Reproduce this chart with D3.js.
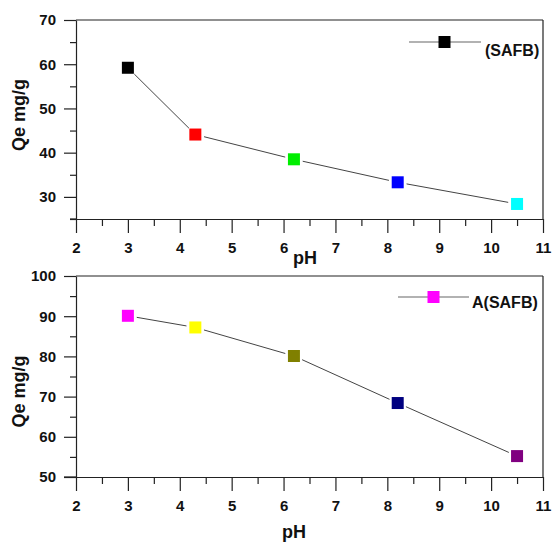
<!DOCTYPE html>
<html><head><meta charset="utf-8">
<script src="https://cdn.jsdelivr.net/npm/d3@7"></script>
<style>
body{margin:0;background:#fff;}
svg text{font-family:"Liberation Sans",Arial,sans-serif;font-weight:bold;fill:#111;}
</style></head>
<body><svg id="c" width="553" height="543"></svg>
<script>
const pH = [3, 4.3, 6.2, 8.2, 10.5];
const qeSAFB = [59.2, 44.1, 38.5, 33.3, 28.4];
const qeASAFB = [90.1, 87.2, 80.1, 68.4, 55.2];
const colorsSAFB = ["#000000", "#ff0000", "#00ee00", "#0000ff", "#00ffff"];
const colorsASAFB = ["#ff00ff", "#ffff00", "#808000", "#000080", "#800080"];
const xTicks = [2,3,4,5,6,7,8,9,10,11];
const xMinor = [2.5,3.5,4.5,5.5,6.5,7.5,8.5,9.5,10.5];
const yTicksTop = [30,40,50,60,70];
const yMinorTop = [25,35,45,55,65];
const yTicksBot = [50,60,70,80,90,100];
const yMinorBot = [55,65,75,85,95];
const legendTop = "(SAFB)";
const legendBot = "A(SAFB)";
const xLabel = "pH";
const yLabel = "Qe mg/g";

const svg = d3.select("#c");
const axisColor = "#222";

function panel(cfg){
  const g = svg.append("g");
  const x = d3.scaleLinear().domain([2,11]).range([76,543]);
  const y = d3.scaleLinear().domain(cfg.yDomain).range([cfg.bottom, cfg.top]);
  // frame top & right
  g.append("line").attr("x1",76).attr("x2",543).attr("y1",cfg.top).attr("y2",cfg.top)
    .attr("stroke",axisColor).attr("stroke-width",1.2);
  g.append("line").attr("x1",543).attr("x2",543).attr("y1",cfg.top).attr("y2",cfg.bottom)
    .attr("stroke",axisColor).attr("stroke-width",1.2);
  // x axis
  const xa = g.append("g").attr("transform",`translate(0,${cfg.bottom})`)
    .call(d3.axisBottom(x).tickValues(xTicks).tickSize(14).tickSizeOuter(0).tickPadding(9).tickFormat(d3.format("d")));
  g.append("g").attr("transform",`translate(0,${cfg.bottom})`)
    .call(d3.axisBottom(x).tickValues(xMinor).tickSize(7).tickSizeOuter(0).tickFormat(""))
    .select(".domain").remove();
  // y axis
  const ya = g.append("g").attr("transform",`translate(76,0)`)
    .call(d3.axisLeft(y).tickValues(cfg.yTicks).tickSize(12).tickSizeOuter(0).tickPadding(8).tickFormat(d3.format("d")));
  g.append("g").attr("transform",`translate(76,0)`)
    .call(d3.axisLeft(y).tickValues(cfg.yMinor).tickSize(6).tickSizeOuter(0).tickFormat(""))
    .select(".domain").remove();
  // extend x axis line left to minor/major tick start and y axis down
  const leftExt = cfg.yMinor.includes(cfg.yDomain[0]) ? 6 : 12;
  g.append("line").attr("x1",76-leftExt).attr("x2",76).attr("y1",cfg.bottom).attr("y2",cfg.bottom)
    .attr("stroke",axisColor).attr("stroke-width",1.2);
  g.selectAll(".domain, .tick line").attr("stroke",axisColor).attr("stroke-width",1.2);
  g.selectAll(".tick text").attr("font-size","15px").attr("fill","#111")
    .style("font-family",'"Liberation Sans",Arial,sans-serif').style("font-weight","bold");

  // line segments with gaps
  const pts = pH.map((v,i)=>[x(v), y(cfg.values[i])]);
  const gap = 9;
  for(let i=0;i<pts.length-1;i++){
    const [x1,y1]=pts[i],[x2,y2]=pts[i+1];
    const dx=x2-x1, dy=y2-y1, L=Math.hypot(dx,dy);
    const ux=dx/L, uy=dy/L;
    g.append("line").attr("x1",x1+ux*gap).attr("y1",y1+uy*gap)
      .attr("x2",x2-ux*gap).attr("y2",y2-uy*gap)
      .attr("stroke","#444").attr("stroke-width",1);
  }
  const s = 12;
  g.selectAll("rect.m").data(pH).enter().append("rect").attr("class","m")
    .attr("x",(d)=>x(d)-s/2).attr("y",(d,i)=>y(cfg.values[i])-s/2)
    .attr("width",s).attr("height",s).attr("fill",(d,i)=>cfg.colors[i]);

  // legend
  const L = cfg.legend;
  g.append("line").attr("x1",L.x1).attr("x2",L.x2).attr("y1",L.y).attr("y2",L.y)
    .attr("stroke","#666").attr("stroke-width",1.2);
  g.append("rect").attr("x",L.mx-s/2).attr("y",L.y-s/2).attr("width",s).attr("height",s)
    .attr("fill",cfg.colors[0]);
  g.append("text").attr("x",L.tx).attr("y",L.ty).attr("font-size","16px").text(cfg.legendText);

  // axis labels
  g.append("text").attr("x",cfg.xl[0]).attr("y",cfg.xl[1]).attr("font-size","18px").text(xLabel);
  g.append("text").attr("transform",`translate(${cfg.yl[0]},${cfg.yl[1]}) rotate(-90)`)
    .attr("text-anchor","middle").attr("font-size","18px").text(yLabel);
}

panel({yDomain:[25,70], top:20, bottom:219, values:qeSAFB, colors:colorsSAFB,
  yTicks:yTicksTop, yMinor:yMinorTop, legendText:legendTop,
  legend:{x1:409,x2:481,y:42,mx:444.5,tx:485,ty:55.5},
  xl:[293,263.5], yl:[25,115]});
panel({yDomain:[50,100], top:276, bottom:477, values:qeASAFB, colors:colorsASAFB,
  yTicks:yTicksBot, yMinor:yMinorBot, legendText:legendBot,
  legend:{x1:398,x2:469,y:297,mx:433.5,tx:472,ty:308},
  xl:[282,538], yl:[25,391.5]});
</script></body></html>
